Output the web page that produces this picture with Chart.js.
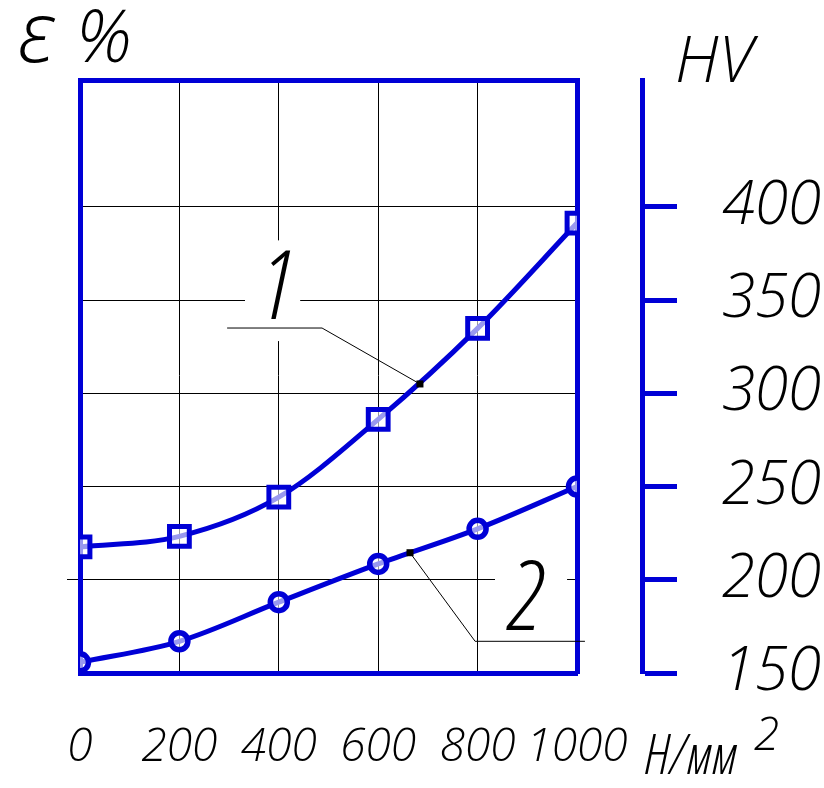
<!DOCTYPE html>
<html>
<head>
<meta charset="utf-8">
<script src="https://cdn.jsdelivr.net/npm/chart.js@4.4.1/dist/chart.umd.min.js"></script>
<style>
  html, body { margin: 0; padding: 0; background: #fff; }
</style>
</head>
<body>
<canvas id="chart" width="824" height="788"></canvas>
<script>
// Load, Н/мм² (bottom axis)
const loads = [0, 200, 400, 600, 800, 1000];
// Hardness HV
const hvCurve1 = [217.6, 223.3, 244.3, 286, 334.8, 391.3];
const hvCurve2 = [155.7, 167, 188, 208.5, 227.3, 250];
// Right axis ticks
const hvTicks = [150, 200, 250, 300, 350, 400];
const hvMin = 150;
const hvMax = 468;

const BLUE = '#0000d6';
const FONT = "'Open Sans', 'DejaVu Sans', sans-serif";
const gost = (size, width = 'condensed') => ({ family: FONT, size, style: 'italic', weight: '300 ' + width, lineHeight: 1 });
const fontStr = (size, width = 'condensed') => `italic 300 ${width} ${size}px ${FONT}`;

const setTicks = list => scale => { scale.ticks = list.map(v => ({ value: v })); };
// keep label overhang / doubled tick padding from moving the plot area
const fixBox = size => s => {
  s.paddingTop = 0;
  s.paddingBottom = 0;
  if (size === undefined) return;
  if (s.isHorizontal()) s.height = size;
  else s.width = size;
};

// Callout labels "1" and "2", in data units (x: load, y: HV)
const callouts = [
  { text: '1', at: [398, 340], clear: [332, 328, 443, 382], path: [[296, 335], [487, 335], [684, 305]] },
  { text: '2', at: [899, 173], clear: [835, 171, 980, 216], path: [[1016, 167], [795, 167], [664, 214.5]] }
];

const notes = {
  id: 'notes',
  beforeDatasetsDraw(chart) {
    const { ctx, scales: { x, y } } = chart;
    ctx.save();
    ctx.fillStyle = '#fff';
    for (const c of callouts) {
      const [x0, y0, x1, y1] = c.clear;
      const left = x.getPixelForValue(x0), top = y.getPixelForValue(y1);
      ctx.fillRect(left, top, x.getPixelForValue(x1) - left, y.getPixelForValue(y0) - top);
    }
    ctx.restore();
  },
  afterDatasetsDraw(chart) {
    const { ctx, scales: { x, y } } = chart;
    ctx.save();
    ctx.strokeStyle = '#000';
    ctx.fillStyle = '#000';
    ctx.lineWidth = 1;
    for (const c of callouts) {
      const pts = c.path.map(([a, b]) => [x.getPixelForValue(a), y.getPixelForValue(b)]);
      ctx.beginPath();
      pts.forEach(([a, b], i) => i ? ctx.lineTo(a, b) : ctx.moveTo(a, b));
      ctx.stroke();
      const [tx, ty] = pts[pts.length - 1];
      ctx.fillRect(tx - 3.5, ty - 3.5, 7, 7);

      ctx.font = fontStr(96);
      ctx.textAlign = 'center';
      ctx.textBaseline = 'alphabetic';
      ctx.fillText(c.text, x.getPixelForValue(c.at[0]), y.getPixelForValue(c.at[1]));
    }

    // axis names
    ctx.textAlign = 'left';
    ctx.font = fontStr(84, 'normal');
    ctx.fillText('ε', 18, 62);
    ctx.font = fontStr(72, 'normal');
    ctx.fillText('%', 76, 62);
    ctx.font = fontStr(64, 'normal');
    ctx.fillText('HV', 675, 82);
    ctx.font = fontStr(55);
    ctx.fillText('Н/мм', 645, 774);
    ctx.font = fontStr(46, 'normal');
    ctx.fillText('2', 754, 750);
    ctx.restore();
  }
};

new Chart(document.getElementById('chart'), {
  type: 'line',
  data: {
    datasets: [
      {
        label: '1',
        data: loads.map((v, i) => ({ x: v, y: hvCurve1[i] })),
        borderColor: BLUE,
        borderWidth: 5,
        cubicInterpolationMode: 'monotone',
        pointStyle: 'rect',
        pointRadius: 14,
        pointBorderWidth: 5,
        pointBorderColor: BLUE,
        pointBackgroundColor: 'rgba(255,255,255,0.6)'
      },
      {
        label: '2',
        data: loads.map((v, i) => ({ x: v, y: hvCurve2[i] })),
        borderColor: BLUE,
        borderWidth: 5,
        cubicInterpolationMode: 'monotone',
        pointStyle: 'circle',
        pointRadius: 8.5,
        pointBorderWidth: 5.5,
        pointBorderColor: BLUE,
        pointBackgroundColor: 'rgba(255,255,255,0.6)'
      }
    ]
  },
  options: {
    responsive: false,
    animation: false,
    layout: { padding: { left: 67, top: 80, right: 0, bottom: 14.5 } },
    plugins: { legend: { display: false }, tooltip: { enabled: false } },
    scales: {
      x: {
        type: 'linear', position: 'bottom', min: 0, max: 1000,
        afterBuildTicks: setTicks(loads),
        afterFit: fixBox(100.5),
        grid: { color: '#000', lineWidth: 1, drawTicks: false },
        border: { color: BLUE, width: 5 },
        ticks: {
          font: gost(46, 'normal'), color: '#000', padding: 52,
          autoSkip: false, maxRotation: 0, callback: v => String(v)
        }
      },
      xt: {
        type: 'linear', position: 'top', min: 0, max: 1000,
        grid: { display: false, drawTicks: false },
        ticks: { display: false },
        border: { color: BLUE, width: 5 }
      },
      y: {
        type: 'linear', position: 'left', min: hvMin, max: hvMax,
        afterBuildTicks: setTicks(hvTicks),
        afterFit: fixBox(),
        ticks: { display: false },
        grid: {
          color: ctx => ctx.tick && ctx.tick.value === hvMin ? 'rgba(0,0,0,0)' : '#000',
          lineWidth: 1,
          tickLength: 13,
          tickColor: ctx => ctx.tick && ctx.tick.value === 200 ? '#000' : 'rgba(0,0,0,0)'
        },
        border: { color: BLUE, width: 5 }
      },
      yb: {
        type: 'linear', position: 'right', weight: 0, min: hvMin, max: hvMax,
        ticks: { display: false },
        grid: { drawOnChartArea: false, drawTicks: false },
        border: { color: BLUE, width: 5 },
        afterFit: fixBox(65)
      },
      yr: {
        type: 'linear', position: 'right', weight: 1, min: hvMin, max: hvMax,
        afterBuildTicks: setTicks(hvTicks),
        ticks: { font: gost(60, 'normal'), color: '#000', padding: 45 },
        grid: { drawOnChartArea: false, tickLength: 35, tickWidth: 5, tickColor: BLUE },
        border: { color: BLUE, width: 5 },
        afterFit: fixBox(182)
      }
    }
  },
  plugins: [notes]
});
</script>
</body>
</html>
